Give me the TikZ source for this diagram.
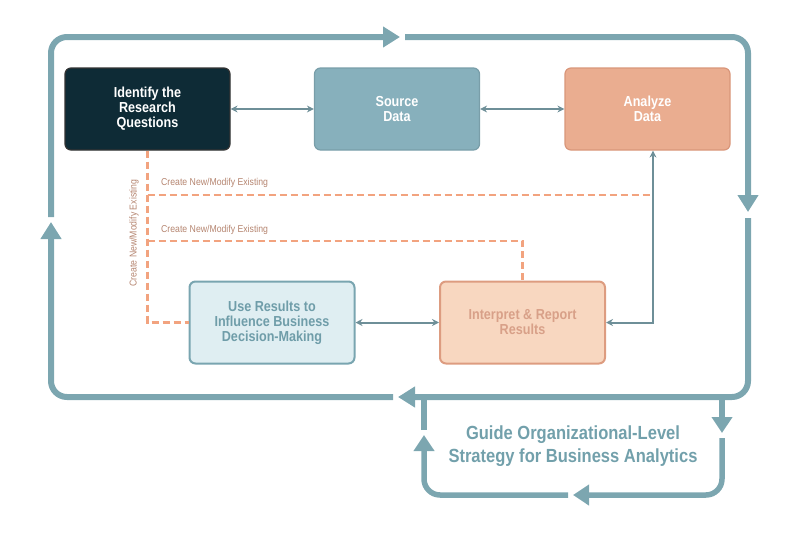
\documentclass[tikz,border=0pt]{standalone}
\usepackage{fontspec}
\setmainfont{Liberation Sans}
\newfontfamily\cond[FakeStretch=0.87]{Liberation Sans}
\usetikzlibrary{arrows.meta}
\definecolor{loopc}{HTML}{7CA6B0}
\definecolor{darkbox}{HTML}{0E2B36}
\definecolor{srcbox}{HTML}{87B0BC}
\definecolor{anabox}{HTML}{EAAD90}
\definecolor{anaedge}{HTML}{D9967A}
\definecolor{usebox}{HTML}{DFEEF2}
\definecolor{useedge}{HTML}{79A5B0}
\definecolor{usetext}{HTML}{6F9DA9}
\definecolor{intbox}{HTML}{F8D7C0}
\definecolor{intedge}{HTML}{DD9C80}
\definecolor{inttext}{HTML}{D8A088}
\definecolor{connc}{HTML}{6E8F98}
\definecolor{dashc}{HTML}{F2A37F}
\definecolor{labc}{HTML}{B58570}
\definecolor{guidec}{HTML}{72A0AB}
\begin{document}
\begin{tikzpicture}[x=1pt,y=-1pt,
  box/.style={rounded corners=6pt,minimum width=165pt,minimum height=82pt,align=center,
    font=\cond\bfseries\fontsize{14.5}{15}\selectfont,line width=1.2pt},
  loopline/.style={draw=loopc,line width=6pt,rounded corners=16pt,-{Triangle[length=17pt,width=20pt]}},
  innerline/.style={draw=loopc,line width=5.5pt,rounded corners=16pt,-{Triangle[length=16pt,width=20pt]}},
  innerplain/.style={draw=loopc,line width=5.5pt,rounded corners=16pt},
  conn/.style={draw=connc,line width=2pt,{Stealth[length=7pt,width=7pt]}-{Stealth[length=7pt,width=7pt]}},
  dashline/.style={draw=dashc,line width=2.4pt,dash pattern=on 7pt off 4pt},
  lab/.style={text=labc,font=\cond\fontsize{10}{12}\selectfont,inner sep=0pt}
]
\useasboundingbox (0,0) rectangle (800,533);

% main loop
\coordinate (L1) at (51,217);
\coordinate (TL) at (51,37);
\coordinate (T1) at (400,37);
\coordinate (T2) at (405,37);
\coordinate (TR) at (748,37);
\coordinate (R1) at (748,212);
\coordinate (R2) at (748,218);
\coordinate (BR) at (748,397);
\coordinate (B1) at (398,397);
\coordinate (B2) at (393,397);
\coordinate (BL) at (51,397);
\coordinate (L2) at (51,222);
\draw[loopline] (L1) -- (TL) -- (T1);
\draw[loopline] (T2) -- (TR) -- (R1);
\draw[loopline] (R2) -- (BR) -- (B1);
\draw[loopline] (B2) -- (BL) -- (L2);

% inner loop
\coordinate (D0) at (722,397);
\coordinate (D1) at (722,433);
\coordinate (D2) at (722,438);
\coordinate (DB) at (722,495);
\coordinate (H1) at (573,495);
\coordinate (H2) at (568,495);
\coordinate (HB) at (424,495);
\coordinate (U1) at (424,435);
\coordinate (U2) at (424,430);
\coordinate (U3) at (424,397);
\draw[innerline] (D0) -- (D1);
\draw[innerline] (D2) -- (DB) -- (H1);
\draw[innerline] (H2) -- (HB) -- (U1);
\draw[innerplain] (U2) -- (U3);

\node[text=guidec, font=\cond\bfseries\fontsize{19}{23}\selectfont, align=center] (guide) at (573,446)
  {Guide Organizational-Level\\Strategy for Business Analytics};

% boxes
\node[box, fill=darkbox, draw=black!80, text=white] (Identify) at (147.5,109) {Identify the\\Research\\Questions};
\node[box, fill=srcbox, draw=srcbox!90!black, text=white] (Source) at (397,109) {Source\\Data};
\node[box, fill=anabox, draw=anaedge, text=white] (Analyze) at (647.5,109) {Analyze\\Data};
\node[box, fill=usebox, draw=useedge, text=usetext, line width=2pt] (Use) at (272,322.5) {Use Results to\\Influence Business\\Decision-Making};
\node[box, fill=intbox, draw=intedge, text=inttext, line width=2pt] (Interpret) at (522.5,322.5) {Interpret \& Report\\Results};

% dashed lines
\coordinate (V1) at (147.5,195);
\coordinate (V2) at (147.5,241);
\coordinate (V3) at (147.5,322.5);
\coordinate (A1) at (653,195);
\coordinate (I1) at (522.5,241);
\draw[dashline] (Identify.south) -- (V3) -- (Use.west);
\draw[dashline] (V1) -- (A1);
\draw[dashline] (V2) -- (I1) -- (Interpret.north);

% gray connectors
\draw[conn] (Identify.east) -- (Source.west);
\draw[conn] (Source.east) -- (Analyze.west);
\draw[conn] (Use.east) -- (Interpret.west);
\draw[conn] ([xshift=5.5pt]Analyze.south) |- (Interpret.east);

% labels
\node[lab, anchor=base west] (lab1) at (161,185) {Create New/Modify Existing};
\node[lab, anchor=base west] (lab2) at (161,232) {Create New/Modify Existing};
\node[lab, rotate=90] (lab3) at (134,233) {Create New/Modify Existing};
\end{tikzpicture}
\end{document}
